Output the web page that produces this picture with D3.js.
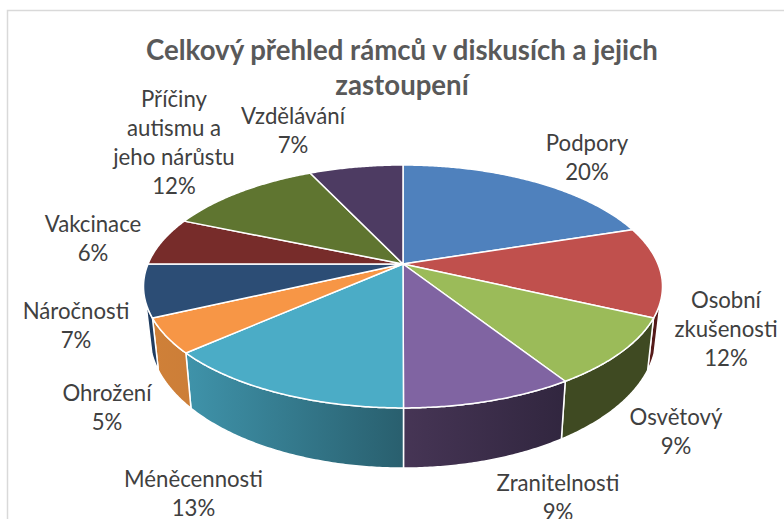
<!DOCTYPE html>
<html><head><meta charset="utf-8">
<script src="https://cdn.jsdelivr.net/npm/d3@7"></script>
<style>html,body{margin:0;padding:0;background:#fff;overflow:hidden}svg{display:block}</style>
</head><body><svg id="c" width="784" height="519"></svg>
<script>
const titleLines = ["Celkový přehled rámců v diskusích a jejich", "zastoupení"];
const categories = [["Podpory"],["Osobní","zkušenosti"],["Osvětový"],["Zranitelnosti"],["Méněcennosti"],["Ohrožení"],["Náročnosti"],["Vakcinace"],["Příčiny","autismu a","jeho nárůstu"],["Vzdělávání"]];
const values = [20,12,9,9,13.45,4.6,7,6.4,11.6,7];
const topColors = ["#4f81bd","#c0504d","#9bbb59","#8064a2","#4bacc6","#f79646","#2c4d75","#772c2a","#5f7530","#4d3b62"];
const wallLeft  = ["#2e4d72","#5a1c1a","#3f4a22","#463555","#3f93aa","#cf8038","#1f3c60","#4a1a19","#3b481d","#302540"];
const wallRight = ["#2e4d72","#4f1818","#3f4a22","#31263f","#295f6e","#cc7e38","#1f3c60","#4a1a19","#3b481d","#302540"];
const labelCx = [587,726,676,558,193.5,107,76,93,174,293];
const labelTop = [151,308,425,491,487,401,319,232,107,124];

const svg = d3.select("#c");
svg.append("rect").attr("x",7.5).attr("y",10.5).attr("width",800).attr("height",540)
  .attr("fill","#fff").attr("stroke","#d9d9d9").attr("stroke-width",1.5);

const pie = d3.pie().sort(null).value(d=>d)(values);
const a = 0.185, deg = Math.PI/180;
// perspective projection of a disc: upper and lower rim
function proj(cy,A,B){ const sx=d3.scaleLinear().domain([0,1]).range([403,403+A]);
  const sy=d3.scaleLinear().domain([0,1]).range([cy,cy-B]);
  return t=>{const w=1+a*Math.cos(t);return [sx(Math.sin(t)/w),sy(Math.cos(t)/w)];}; }
const up = proj(264,255,117.3), low = proj(311.4,249,127.7);
const line = d3.line();
const samples = (t0,t1)=>{const n=Math.max(2,Math.ceil((t1-t0)/(0.5*deg)));return d3.range(n+1).map(i=>t0+(t1-t0)*i/n);};

const defs = svg.append("defs");
const wallMin=108*deg, wallMax=252*deg;
// walls
pie.forEach((d,i)=>{
  const t0=Math.max(d.startAngle,wallMin), t1=Math.min(d.endAngle,wallMax);
  if(t1<=t0) return;
  const ts=samples(t0,t1);
  const pts=ts.map(up).concat(ts.slice().reverse().map(low));
  const xs=pts.map(p=>p[0]);
  const g=defs.append("linearGradient").attr("id","w"+i).attr("gradientUnits","userSpaceOnUse")
    .attr("x1",d3.min(xs)).attr("x2",d3.max(xs)).attr("y1",0).attr("y2",0);
  g.append("stop").attr("offset",0).attr("stop-color",wallLeft[i]);
  g.append("stop").attr("offset",1).attr("stop-color",wallRight[i]);
  svg.append("path").attr("d",line(pts)+"Z").attr("fill",`url(#w${i})`)
    .attr("stroke","#fff").attr("stroke-width",1.5).attr("stroke-linejoin","round");
});
// top faces
pie.forEach((d,i)=>{
  const pts=[[403,264]].concat(samples(d.startAngle,d.endAngle).map(up));
  svg.append("path").attr("d",line(pts)+"Z").attr("fill",topColors[i])
    .attr("stroke","#fff").attr("stroke-width",1.5).attr("stroke-linejoin","round");
});
// labels
const font="Lato, Carlito, 'Open Sans', sans-serif";
categories.forEach((c,i)=>{
  c.concat([Math.round(values[i])+"%"]).forEach((s,j)=>{
    svg.append("text").attr("x",labelCx[i]).attr("y",labelTop[i]+j*29).attr("text-anchor","middle")
      .attr("font-family",font).attr("font-size",22.2).attr("fill","#404040").text(s);
  });
});
titleLines.forEach((s,j)=>{
  svg.append("text").attr("x",402).attr("y",60+j*35).attr("text-anchor","middle")
    .attr("font-family",font).attr("font-weight",700).attr("font-size",27.6).attr("fill","#595959").text(s);
});
</script></body></html>
